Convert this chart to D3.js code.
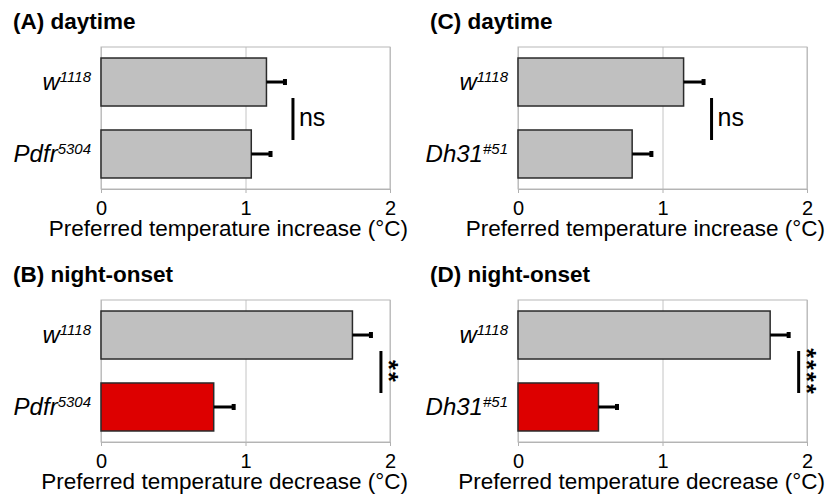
<!DOCTYPE html>
<html>
<head>
<meta charset="utf-8">
<script src="https://cdnjs.cloudflare.com/ajax/libs/d3/7.8.5/d3.min.js"></script>
<style>
  body { margin: 0; background: #fff; }
  svg { font-family: "Liberation Sans", Arial, sans-serif; }
</style>
</head>
<body>
<div id="vis"></div>
<script>
// values
var titlesA = "(A) daytime", titlesB = "(B) night-onset", titlesC = "(C) daytime", titlesD = "(D) night-onset";

var genoA = ["w", "Pdfr"];
var supA = ["1118", "5304"];
var genoC = ["w", "Dh31"];
var supC = ["1118", "#51"];

var meanA = [1.145, 1.04];
var errA = [0.135, 0.14];
var meanB = [1.74, 0.78];
var errB = [0.135, 0.145];
var meanC = [1.146, 0.79];
var errC = [0.145, 0.14];
var meanD = [1.745, 0.557];
var errD = [0.135, 0.135];

var sigLabels = ["ns", "**", "ns", "****"];
var xTicks = [0, 1, 2];
var xTitleDay = "Preferred temperature increase (\u00B0C)";
var xTitleNight = "Preferred temperature decrease (\u00B0C)";

var width = 829;
var height = 499;

var svg = d3.select('#vis')
    .append('svg')
    .attr('width', width)
    .attr('height', height);

var panels = [
    {title: titlesA, geno: genoA, sup: supA, mean: meanA, err: errA, sig: sigLabels[0], xtitle: xTitleDay,   left: 101, top: 47,  night: false},
    {title: titlesB, geno: genoA, sup: supA, mean: meanB, err: errB, sig: sigLabels[1], xtitle: xTitleNight, left: 101, top: 300, night: true},
    {title: titlesC, geno: genoC, sup: supC, mean: meanC, err: errC, sig: sigLabels[2], xtitle: xTitleDay,   left: 518, top: 47,  night: false},
    {title: titlesD, geno: genoC, sup: supC, mean: meanD, err: errD, sig: sigLabels[3], xtitle: xTitleNight, left: 518, top: 300, night: true}
];

var pw = 289, ph = 142;

panels.forEach(function(p) {
    var g = svg.append('g')
        .attr('transform', 'translate(' + p.left + ',' + p.top + ')');

    var data = p.geno.map(function(d, i) {
        return {name: d, sup: p.sup[i], mean: p.mean[i], err: p.err[i], idx: i};
    });

    var x_scale = d3.scaleLinear().domain([0, 2]).range([0, pw]);
    var y_scale = d3.scaleBand()
        .domain(data.map(function(d) { return d.idx; }))
        .range([0, ph])
        .paddingInner(0.333)
        .paddingOuter(0.153);

    // panel title
    svg.append('text')
        .attr('x', p.left < 300 ? 13 : 430)
        .attr('y', p.top - 18)
        .style('font-size', '22.5px')
        .style('font-weight', 'bold')
        .text(p.title);

    // gridlines
    g.append('g')
        .attr('transform', 'translate(0,' + ph + ')')
        .call(d3.axisBottom(x_scale).tickValues(xTicks).tickSize(-ph).tickFormat(''))
        .call(function(s) {
            s.select('.domain').remove();
            s.selectAll('line').attr('stroke', '#c4c4c4');
        });

    // x axis
    var ax = g.append('g')
        .attr('class', 'x axis')
        .attr('transform', 'translate(0,' + ph + ')')
        .call(d3.axisBottom(x_scale).tickValues(xTicks).tickSize(4).tickSizeOuter(0).tickFormat(d3.format('d')));
    ax.select('.domain').attr('stroke', '#b0b0b0');
    ax.selectAll('line').attr('stroke', '#b0b0b0');
    ax.selectAll('text')
        .attr('y', 26)
        .attr('dy', 0)
        .attr('fill', '#000')
        .style('font-size', '20px')
        .style('font-family', '"Liberation Sans", Arial, sans-serif');

    // frame
    g.append('rect')
        .attr('width', pw)
        .attr('height', ph)
        .attr('fill', 'none')
        .attr('stroke', '#b8b8b8')
        .attr('stroke-width', 1);

    // bars
    g.selectAll('.bar')
        .data(data)
        .enter()
        .append('rect')
        .attr('class', 'bar')
        .attr('x', x_scale(0))
        .attr('y', function(d) { return y_scale(d.idx); })
        .attr('width', function(d) { return x_scale(d.mean) - x_scale(0); })
        .attr('height', y_scale.bandwidth())
        .attr('fill', function(d) { return (p.night && d.idx == 1) ? '#dd0000' : '#c0c0c0'; })
        .attr('stroke', '#2a2a2a')
        .attr('stroke-width', 1.5);

    // error bars
    g.selectAll('.err')
        .data(data)
        .enter()
        .append('line')
        .attr('class', 'err')
        .attr('x1', function(d) { return x_scale(d.mean); })
        .attr('x2', function(d) { return x_scale(d.mean + d.err); })
        .attr('y1', function(d) { return y_scale(d.idx) + y_scale.bandwidth() / 2; })
        .attr('y2', function(d) { return y_scale(d.idx) + y_scale.bandwidth() / 2; })
        .attr('stroke', '#000')
        .attr('stroke-width', 3);

    g.selectAll('.cap')
        .data(data)
        .enter()
        .append('rect')
        .attr('class', 'cap')
        .attr('x', function(d) { return x_scale(d.mean + d.err) - 3; })
        .attr('y', function(d) { return y_scale(d.idx) + y_scale.bandwidth() / 2 - 3; })
        .attr('width', 4)
        .attr('height', 6)
        .attr('fill', '#000');

    // genotype labels
    var lab = g.selectAll('.lab')
        .data(data)
        .enter()
        .append('text')
        .attr('class', 'lab')
        .attr('x', -10)
        .attr('y', function(d) { return y_scale(d.idx) + y_scale.bandwidth() / 2 + 8; })
        .attr('text-anchor', 'end')
        .style('font-style', 'italic');
    lab.append('tspan')
        .style('font-size', '24px')
        .text(function(d) { return d.name; });
    lab.append('tspan')
        .attr('dy', -8)
        .style('font-size', '15px')
        .text(function(d) { return d.sup; });

    // significance bracket
    var maxEnd = d3.max(data, function(d) { return d.mean + d.err; });
    var bx = x_scale(maxEnd) + (p.night ? 9 : 7);
    var yTop = y_scale(0) + y_scale.bandwidth() - 8;
    var yBot = y_scale(1) + y_scale.bandwidth() / 2 - 14;
    g.append('line')
        .attr('x1', bx).attr('x2', bx)
        .attr('y1', yTop).attr('y2', yBot)
        .attr('stroke', '#000')
        .attr('stroke-width', 3);

    var mid = (yTop + yBot) / 2;
    if (p.sig == 'ns') {
        g.append('text')
            .attr('x', bx + 6)
            .attr('y', mid + 7)
            .style('font-size', '25px')
            .text(p.sig);
    } else {
        // stars run down the bracket as one rotated text
        g.append('text')
            .attr('transform', 'translate(' + (bx - 1) + ',' + mid + ') rotate(90)')
            .attr('text-anchor', 'middle')
            .style('font-size', '25px')
            .style('font-weight', 'bold')
            .style('letter-spacing', '2.2px')
            .text(p.sig);
    }

    // x axis title
    g.append('text')
        .attr('x', pw + 18)
        .attr('y', ph + 47)
        .attr('text-anchor', 'end')
        .style('font-size', '22.5px')
        .text(p.xtitle);
});
</script>
</body>
</html>
